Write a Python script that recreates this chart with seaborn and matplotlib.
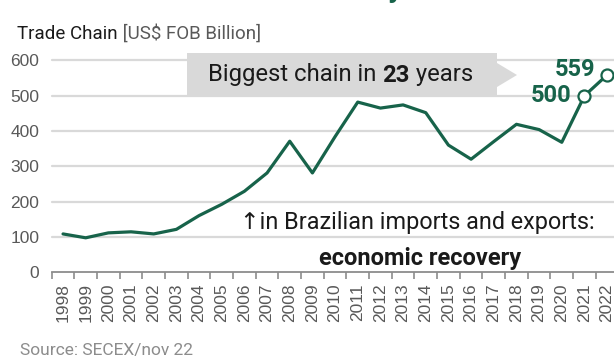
import matplotlib
matplotlib.use("Agg")
import matplotlib.pyplot as plt
import seaborn as sns
import pandas as pd
from matplotlib.patches import Polygon

years = [str(y) for y in range(1998, 2023)]
trade = [108, 97, 111, 114, 108, 121, 160, 192, 229, 281, 371, 281, 384, 482,
         465, 474, 452, 360, 320, 370, 419, 404, 368, 500, 559]
highlight_years = ["2021", "2022"]
highlight_labels = ["500", "559"]
y_ticks = [0, 100, 200, 300, 400, 500, 600]

GREEN = "#17634A"
GRID = "#D9D9D9"
TICKGRAY = "#595959"

NFAM = ["Roboto", "DejaVu Sans"]

sns.set_theme(style="white")
plt.rcParams["font.family"] = ["Liberation Sans", "DejaVu Sans"]

df = pd.DataFrame({"year": years, "trade": trade})

W, H = 614, 361
fig = plt.figure(figsize=(W / 100, H / 100), dpi=100)


def fx(px):
    return px / W


def fy(py):
    return 1 - py / H


left_px, right_px = 51.7, 51.7 + 25 * 22.67
top_px, bot_px = 60.5, 272
ax = fig.add_axes([fx(left_px), fy(bot_px), fx(right_px - left_px), (bot_px - top_px) / H])

sns.lineplot(data=df, x="year", y="trade", ax=ax, color=GREEN, linewidth=2.3,
             sort=False, zorder=5)
hl = df[df["year"].isin(highlight_years)]
sns.scatterplot(data=hl, x="year", y="trade", ax=ax, s=75, facecolor="white",
                edgecolor=GREEN, linewidth=1.6, zorder=6, clip_on=False)

ax.set_xlim(-0.5, len(years) - 0.5)
ax.set_ylim(0, 600)
ax.set_yticks(y_ticks)
ax.set_yticklabels([str(v) for v in y_ticks])
for v in y_ticks[1:]:
    ax.axhline(v, color=GRID, linewidth=1.6, zorder=1, clip_on=False)
for s in ["top", "right", "left"]:
    ax.spines[s].set_visible(False)
ax.spines["bottom"].set_color("#8C8C8C")
ax.spines["bottom"].set_linewidth(1.3)
ax.set_xticks(range(len(years)))
ax.set_xticklabels(years, rotation=90, fontsize=12.5, color=TICKGRAY)
ax.set_xticks([i - 0.5 for i in range(len(years) + 1)], minor=True)
ax.tick_params(axis="x", which="major", length=0, pad=8)
ax.tick_params(axis="x", which="minor", length=5, width=1.2, color="#8C8C8C", direction="out", bottom=True)
ax.tick_params(axis="y", length=0, pad=9, labelsize=12.5, labelcolor=TICKGRAY)
ax.set_xlabel("")
ax.set_ylabel("")
ax.grid(False)

# value labels
offsets = {"2021": (-9, 0), "2022": (-8.6, 3.6)}
for yr, lab in zip(highlight_years, highlight_labels):
    i = years.index(yr)
    ax.annotate(lab, xy=(i, trade[i]), xytext=offsets[yr],
                textcoords="offset points", ha="right", va="center",
                fontsize=17, fontweight="bold", color=GREEN, family=NFAM,
                annotation_clip=False, zorder=7)

# callout box (drawn inside the axes so texts can sit above it)
box = Polygon([(fx(187), fy(53)), (fx(497), fy(53)), (fx(497), fy(63)), (fx(517), fy(75)),
               (fx(497), fy(87)), (fx(497), fy(95)), (fx(187), fy(95))],
              closed=True, transform=fig.transFigure, facecolor=GRID, edgecolor="none",
              zorder=3, clip_on=False)
ax.add_patch(box)
t1 = ax.text(fx(208), fy(75), "Biggest chain in ", fontsize=17.2, family=NFAM,
             color="#1A1A1A", va="center", ha="left", zorder=4,
             transform=fig.transFigure, clip_on=False)
t2 = ax.annotate("23", xy=(1, 0), xycoords=t1, va="bottom", ha="left", fontsize=17.2,
                 fontweight="bold", family=NFAM, color="#1A1A1A", zorder=4)
t3 = ax.annotate(" years", xy=(1, 0), xycoords=t2, va="bottom", ha="left", fontsize=17.2,
                 family=NFAM, color="#1A1A1A", zorder=4)

# title
h1 = fig.text(fx(17), fy(34), "Trade Chain", fontsize=13.5, family=NFAM, color="#1A1A1A",
              va="center", ha="left")
fig.add_artist(matplotlib.text.Annotation(" [US$ FOB Billion]", xy=(1, 0), xycoords=h1,
                                          va="bottom", ha="left", fontsize=13.5,
                                          family=NFAM, color="#595959"))

# cut-off headline descender
fig.text(fx(388), fy(-3), "y", fontsize=22, fontweight="bold", color=GREEN,
         va="baseline", ha="left", family=NFAM)

# bottom note
fig.text(fx(240), fy(223), "\u2191in Brazilian imports and exports:", fontsize=16.8,
         family=NFAM, color="#1A1A1A", va="center", ha="left")
fig.text(fx(420), fy(258), "economic recovery", fontsize=17, fontweight="bold",
         family=NFAM, color="#1A1A1A", va="center", ha="center")

fig.text(fx(20), fy(350), "Source: SECEX/nov 22", fontsize=12.5, family=NFAM,
         color="#8C8C8C", va="center", ha="left")

fig.savefig("out.png", dpi=100)
